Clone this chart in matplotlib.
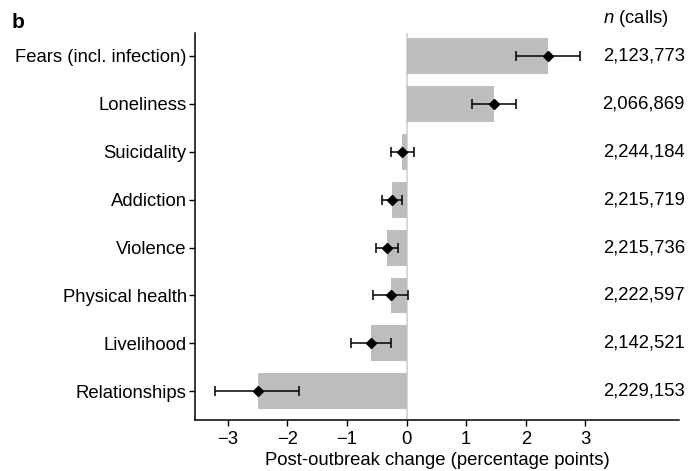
import matplotlib
matplotlib.use("Agg")
import matplotlib.pyplot as plt
import matplotlib.transforms as mtransforms

plt.rcParams['font.family'] = ['Liberation Sans', 'DejaVu Sans']
plt.rcParams['mathtext.fontset'] = 'custom'
plt.rcParams['mathtext.it'] = 'Liberation Sans:italic'
plt.rcParams['mathtext.rm'] = 'Liberation Sans'

# data (percentage points)
categories = ["Fears (incl. infection)", "Loneliness", "Suicidality", "Addiction",
              "Violence", "Physical health", "Livelihood", "Relationships"]
change = [2.38, 1.47, -0.07, -0.25, -0.33, -0.27, -0.60, -2.50]
ci_low = [1.84, 1.10, -0.27, -0.41, -0.52, -0.57, -0.94, -3.21]
ci_high = [2.91, 1.84, 0.13, -0.08, -0.15, 0.03, -0.26, -1.80]
n_calls = ["2,123,773", "2,066,869", "2,244,184", "2,215,719",
           "2,215,736", "2,222,597", "2,142,521", "2,229,153"]
xticks = [-3, -2, -1, 0, 1, 2, 3]

FS = 13.3
fig = plt.figure(figsize=(6.88, 4.71), dpi=100)
ax = fig.add_axes([195 / 688, 1 - 420 / 471, (679 - 195) / 688, (420 - 33) / 471])

ypos = list(range(len(categories)))
ax.axvline(0, color="#d0d0d0", lw=1.2, zorder=1)
ax.barh(ypos, change, height=0.75, color="#bdbdbd", zorder=2)
xerr = [[c - lo for c, lo in zip(change, ci_low)], [hi - c for c, hi in zip(change, ci_high)]]
ax.errorbar(change, ypos, xerr=xerr, fmt="D", color="black", ms=5.5, elinewidth=1.1,
            capsize=3.7, capthick=1.1, zorder=3)

ax.set_xlim(-3.55, 4.57)
ax.set_ylim(7.6, -0.48)
ax.set_yticks(ypos)
ax.set_yticklabels(categories, fontsize=FS)
ax.set_xticks(xticks)
ax.set_xticklabels(["\u2212%d" % -t if t < 0 else str(t) for t in xticks], fontsize=FS)
ax.set_xlabel("Post-outbreak change (percentage points)", fontsize=FS, labelpad=3)
ax.tick_params(axis="y", length=4, width=1, color="black", pad=2)
ax.tick_params(axis="x", length=4, width=1, color="black", pad=4)
for side in ["top", "right"]:
    ax.spines[side].set_visible(False)
for side in ["left", "bottom"]:
    ax.spines[side].set_linewidth(1.1)

trans = mtransforms.blended_transform_factory(ax.transAxes, ax.transData)
for y, n in zip(ypos, n_calls):
    ax.text(1.012, y, n, transform=trans, ha="right", va="center", fontsize=FS, clip_on=False)
ax.text(0.843, -0.78, "$n$ (calls)", transform=trans, ha="left", va="center", fontsize=FS)

fig.text(12 / 688, 1 - 23 / 471, "b", fontsize=15, fontweight="bold", ha="left", va="center")

fig.savefig("out.png", dpi=100)
